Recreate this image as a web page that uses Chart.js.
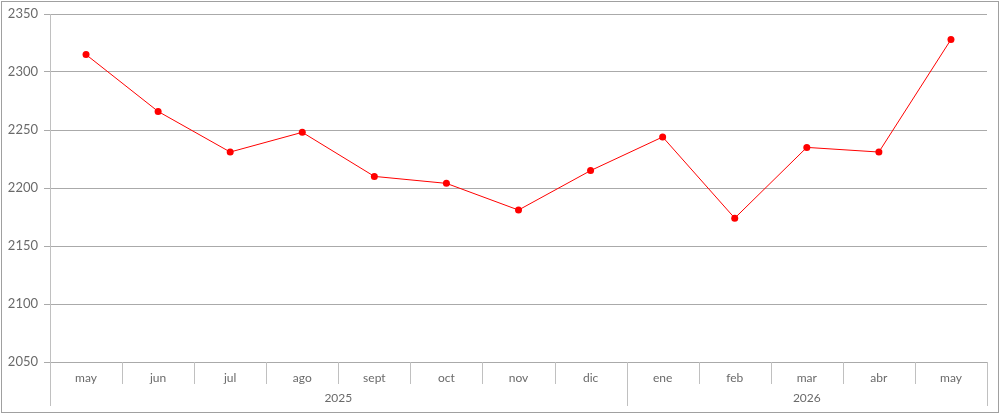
<!DOCTYPE html>
<html>
<head>
<meta charset="utf-8">
<script src="https://cdn.jsdelivr.net/npm/chart.js@4"></script>
<style>
  html, body { margin: 0; padding: 0; background: #fff; }
  #wrap { width: 1000px; height: 416px; position: relative; }
</style>
</head>
<body>
<div id="wrap"><canvas id="c" width="1000" height="416"></canvas></div>
<script>
const months = ['may','jun','jul','ago','sept','oct','nov','dic','ene','feb','mar','abr','may'];
const values = [2315, 2266, 2231, 2248, 2210, 2204, 2181, 2215, 2244, 2174, 2235, 2231, 2328];
const years = ['2025', '2026'];
const yearSpans = [8, 5];
const yMin = 2050, yMax = 2350, yStep = 50;

const FONT = 'Lato, "Open Sans", sans-serif';
const TEXT = '#6a6a6a';
const GRID = '#aaaaaa';

const groupPlugin = {
  id: 'groups',
  afterDraw(chart) {
    const ctx = chart.ctx;
    const xs = chart.scales.x;
    const area = chart.chartArea;
    const bottom = area.bottom;
    ctx.save();
    ctx.strokeStyle = '#a0a0a0';
    ctx.lineWidth = 1;
    ctx.strokeRect(1.5, 1.5, 997, 411);
    const yearBounds = new Set();
    let acc = 0;
    yearBounds.add(0);
    yearSpans.forEach(s => { acc += s; yearBounds.add(acc); });
    ctx.strokeStyle = '#c0c0c0';
    for (let i = 0; i <= months.length; i++) {
      const x = Math.round(xs.getPixelForValue(i - 0.5)) + 0.5;
      const isYear = yearBounds.has(i);
      ctx.beginPath();
      ctx.moveTo(x, bottom);
      ctx.lineTo(x, isYear ? bottom + 44 : bottom + 22);
      ctx.stroke();
    }
    ctx.fillStyle = TEXT;
    ctx.font = '12px ' + FONT;
    ctx.textAlign = 'center';
    ctx.textBaseline = 'middle';
    let start = 0;
    years.forEach((y, k) => {
      const end = start + yearSpans[k];
      const x0 = xs.getPixelForValue(start - 0.5);
      const x1 = xs.getPixelForValue(end - 0.5);
      ctx.fillText(y, (x0 + x1) / 2, bottom + 36);
      start = end;
    });
    ctx.restore();
  }
};

new Chart(document.getElementById('c'), {
  type: 'line',
  data: {
    labels: months,
    datasets: [{
      data: values,
      borderColor: '#ff0000',
      backgroundColor: '#ff0000',
      borderWidth: 1,
      pointRadius: 3.5,
      pointHoverRadius: 3.5,
      pointBorderWidth: 0,
      tension: 0
    }]
  },
  options: {
    responsive: false,
    animation: false,
    devicePixelRatio: 1,
    layout: { padding: { top: 14, right: 13, bottom: 0, left: 0 } },
    plugins: { legend: { display: false }, tooltip: { enabled: false } },
    scales: {
      x: {
        offset: true,
        grid: { display: false, drawTicks: false },
        border: { display: false },
        ticks: { color: TEXT, font: { family: FONT, size: 12 }, padding: 9, maxRotation: 0, autoSkip: false },
        afterFit(scale) { scale.height = 54; }
      },
      y: {
        min: yMin, max: yMax,
        grid: { color: GRID, tickLength: 6, drawTicks: true },
        border: { display: true, color: '#c0c0c0' },
        ticks: { stepSize: yStep, color: TEXT, font: { family: FONT, size: 13 }, padding: 6,
                 callback: v => String(v) },
        afterFit(scale) { scale.width = 50; }
      }
    }
  },
  plugins: [groupPlugin]
});
</script>
</body>
</html>
